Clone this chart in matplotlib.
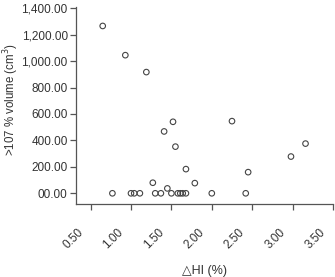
import matplotlib
matplotlib.use("Agg")
import matplotlib.pyplot as plt
import matplotlib.transforms as mtransforms

plt.rcParams["font.family"] = ["Liberation Sans", "DejaVu Sans"]

# delta HI (%) vs >107 % volume (cm3)
dhi = [0.65, 0.93, 1.19, 1.52, 1.41, 1.55, 2.25, 3.16, 2.98, 2.45, 2.00, 2.42,
       0.77, 1.00, 1.04, 1.11, 1.27, 1.30, 1.37, 1.45, 1.50, 1.58, 1.61, 1.64,
       1.68, 1.68, 1.79]
vol = [1266, 1045, 917, 541, 468, 353, 546, 376, 278, 160, 0, 0,
       0, 0, 0, 0, 80, 0, 0, 37, 0, 0, 0, 0,
       0, 183, 77]

xticks = [0.5, 1.0, 1.5, 2.0, 2.5, 3.0, 3.5]
yticks = [0, 200, 400, 600, 800, 1000, 1200, 1400]
ylabels = ["00.00", "200.00", "400.00", "600.00", "800.00", "1,000.00", "1,200.00", "1,400.00"]

fig = plt.figure(figsize=(3.35, 2.77), dpi=100)
ax = fig.add_axes([0.227, 0.264, 0.767, 0.711])

ax.scatter(dhi, vol, s=16, facecolors="none", edgecolors="#444444", linewidths=0.8)

ax.set_xlim(0.32, 3.5)
ax.set_ylim(-80, 1410)
ax.set_xticks(xticks)
ax.set_xticklabels(["%.2f" % t for t in xticks], rotation=45, ha="right", fontsize=8.5, color="#333333")
ax.set_yticks(yticks)
ax.set_yticklabels(ylabels, fontsize=8.5, color="#333333")

for s in ["top", "right"]:
    ax.spines[s].set_visible(False)
for s in ["left", "bottom"]:
    ax.spines[s].set_color("#555555")
    ax.spines[s].set_linewidth(0.9)
ax.tick_params(length=4, width=0.9, color="#555555", pad=2)

# push the rotated tick labels down and left like the original
# (after tick_params, which resets the label transforms)
offset = mtransforms.ScaledTranslation(-0.05, -0.14, fig.dpi_scale_trans)
for lab in ax.get_xticklabels():
    lab.set_transform(lab.get_transform() + offset)

ax.set_xlabel("\u25b3HI (%)", fontsize=9, color="#333333", labelpad=10)
ax.set_ylabel(">107 % volume (cm$^3$)", fontsize=8.3, color="#333333")
ax.yaxis.set_label_coords(-0.215, 0.53)

fig.savefig("out.png", dpi=100)
